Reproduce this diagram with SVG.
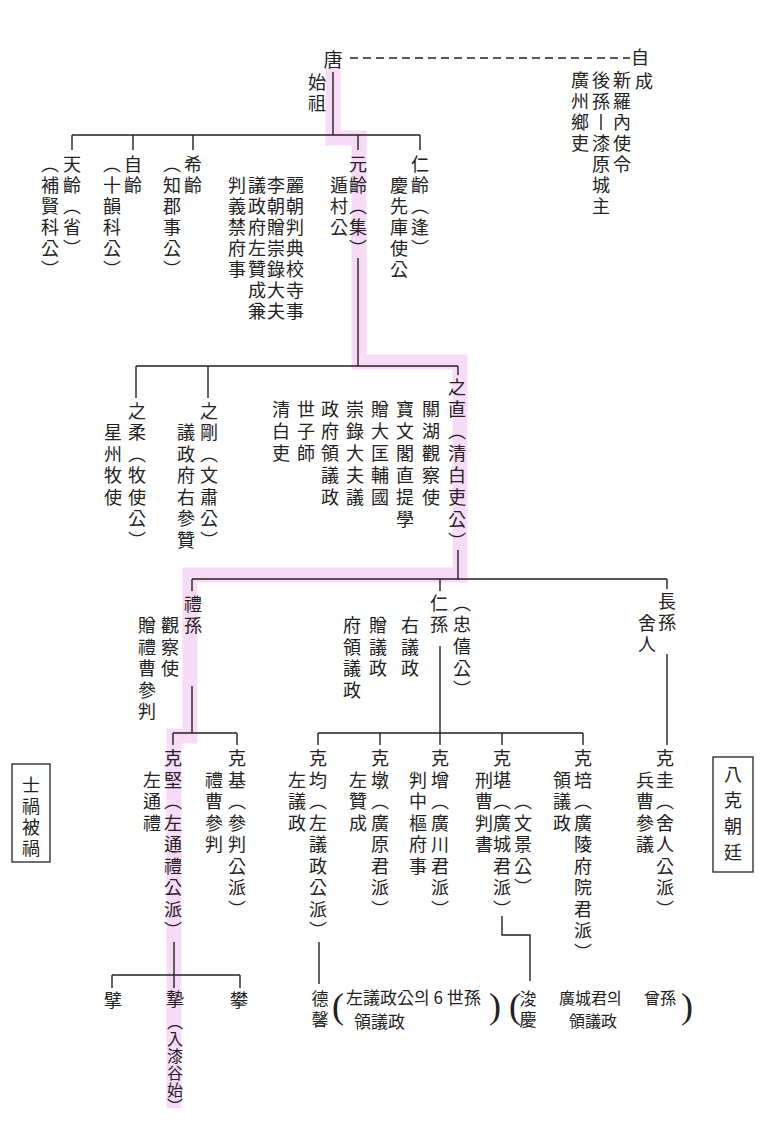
<svg xmlns="http://www.w3.org/2000/svg" width="764" height="1129" viewBox="0 0 764 1129">
<style>
text{font-family:"Noto Sans CJK KR","Noto Sans CJK TC",sans-serif;font-size:18px;fill:#222;text-anchor:middle;dominant-baseline:central}
.s{font-size:16px}
.h{font-size:17px;text-anchor:start}
.p{font-family:"Liberation Serif",serif;font-size:36px}
.ln{stroke:#222;stroke-width:1.4;fill:none}
.dash{stroke:#222;stroke-width:1.4;stroke-dasharray:8 5;fill:none}
.box{fill:none;stroke:#222;stroke-width:1.3}
.hl{fill:none;stroke:#f2bdf0;stroke-width:15;opacity:0.55;stroke-linejoin:miter}
</style>
<rect width="764" height="1129" fill="#ffffff"/>
<path class="hl" d="M333,68 V138 H359 V362 H460 V575 H190 V736 H174 V1108"/>
<g id="connectors">
<line class="dash" x1="350" y1="58" x2="630" y2="58"/>
<path class="ln" d="M333,72 V135 M72,135 H420 M72,135 V150 M133,135 V150 M193,135 V150 M358,135 V150 M420,135 V150"/>
<path class="ln" d="M358,258 V366 M136,366 H458 M136,366 V398 M208,366 V398 M458,366 V375"/>
<path class="ln" d="M458,550 V579 M192,579 H667 M192,579 V591 M440,579 V591 M667,579 V589"/>
<path class="ln" d="M192,686 V733 M440,646 V733 M667,654 V745"/>
<path class="ln" d="M173,733 H237 M173,733 V745 M237,733 V745"/>
<path class="ln" d="M318,733 H583 M318,733 V745 M380,733 V745 M440,733 V745 M502,733 V745 M583,733 V745"/>
<path class="ln" d="M174,942 V975 M112,975 H240 M112,975 V988 M174,975 V988 M240,975 V988"/>
<path class="ln" d="M319,942 V984"/>
<path class="ln" d="M502,916 V935 H530 V981"/>
</g>
<g id="n-tang">
<text x="333" y="58" style="font-size:19px">唐</text>
<text x="317 317" y="81 102">始祖</text>
</g>
<g id="n-jaseong">
<text x="640" y="56">自</text>
<text x="644" y="80">成</text>
<text x="622 622 622 622 622" y="79 100 121 142 163">新羅內使令</text>
<text x="601 601" y="79 100">後孫</text>
<line class="ln" x1="601" y1="114" x2="601" y2="130"/>
<text x="601 601 601 601" y="142 163 184 205">漆原城主</text>
<text x="580 580 580 580" y="79 100 121 142">廣州鄉吏</text>
</g>
<g id="n-cheonryeong">
<text x="72 72 72 72 72" y="163 184 205 226 247">天齡︵省︶</text>
<text x="50 50 50 50 50 50" y="163 184 205 226 247 268">︵補賢科公︶</text>
</g>
<g id="n-jaryeong">
<text x="133 133" y="163 184">自齡</text>
<text x="112 112 112 112 112 112" y="163 184 205 226 247 268">︵十韻科公︶</text>
</g>
<g id="n-huiryeong">
<text x="193 193" y="163 184">希齡</text>
<text x="172 172 172 172 172 172" y="163 184 205 226 247 268">︵知郡事公︶</text>
</g>
<g id="n-wonryeong">
<text x="358 358 358 358 358" y="163 184 205 226 247">元齡︵集︶</text>
<text x="339 339 339" y="184 205 226">遁村公</text>
<text x="295 295 295 295 295 295 295" y="184 205 226 247 268 289 310">麗朝判典校寺事</text>
<text x="276 276 276 276 276 276 276" y="184 205 226 247 268 289 310">李朝贈崇錄大夫</text>
<text x="257 257 257 257 257 257 257" y="184 205 226 247 268 289 310">議政府左贊成兼</text>
<text x="237 237 237 237 237" y="184 205 226 247 268">判義禁府事</text>
</g>
<g id="n-inryeong">
<text x="420 420 420 420 420" y="163 184 205 226 247">仁齡︵逢︶</text>
<text x="399 399 399 399 399" y="184 205 226 247 268">慶先庫使公</text>
</g>
<g id="n-jijik">
<text x="457 457 457 457 457 457 457 457" y="386 408 430 452 474 496 518 540">之直︵清白吏公︶</text>
<text x="431 431 431 431 431" y="408 430 452 474 496">關湖觀察使</text>
<text x="405 405 405 405 405 405" y="408 430 452 474 496 518">寶文閣直提學</text>
<text x="380 380 380 380 380" y="408 430 452 474 496">贈大匡輔國</text>
<text x="355 355 355 355 355" y="408 430 452 474 496">崇錄大夫議</text>
<text x="330 330 330 330 330" y="408 430 452 474 496">政府領議政</text>
<text x="306 306 306" y="408 430 452">世子師</text>
<text x="281 281 281" y="408 430 452">清白吏</text>
</g>
<g id="n-jiyu">
<text x="137 137 137 137 137 137 137" y="410 431 453 474 496 517 539">之柔︵牧使公︶</text>
<text x="113 113 113 113" y="431 453 474 496">星州牧使</text>
</g>
<g id="n-jigang">
<text x="209 209 209 209 209 209 209" y="410 431 453 474 496 517 539">之剛︵文肅公︶</text>
<text x="186 186 186 186 186 186" y="431 453 474 496 517 539">議政府右參贊</text>
</g>
<g id="n-yeson">
<text x="193 193" y="603 624">禮孫</text>
<text x="170 170 170" y="624 646 667">觀察使</text>
<text x="147 147 147 147 147" y="624 646 667 689 710">贈禮曹參判</text>
</g>
<g id="n-inson">
<text x="439 439" y="602 623">仁孫</text>
<text x="462 462 462 462 462" y="602 623 645 667 688">︵忠僖公︶</text>
<text x="410 410 410" y="624 646 667">右議政</text>
<text x="378 378 378" y="624 646 667">贈議政</text>
<text x="352 352 352 352" y="624 646 667 689">府領議政</text>
</g>
<g id="n-jangson">
<text x="667 667" y="600 621">長孫</text>
<text x="647 647" y="622 643">舍人</text>
</g>
<g id="n-geukgyeon">
<text x="173 173 173 173 173 173 173 173 173" y="757 779 800 822 843 865 886 908 929">克堅︵左通禮公派︶</text>
<text x="152 152 152" y="779 800 822">左通禮</text>
</g>
<g id="n-geukgi">
<text x="237 237 237 237 237 237 237 237" y="757 779 800 822 843 865 886 908">克基︵參判公派︶</text>
<text x="214 214 214 214" y="779 800 822 843">禮曹參判</text>
</g>
<g id="n-geukgyun">
<text x="318 318 318 318 318 318 318 318 318" y="757 779 800 822 843 865 886 908 929">克均︵左議政公派︶</text>
<text x="297 297 297" y="779 800 822">左議政</text>
</g>
<g id="n-geukdon">
<text x="380 380 380 380 380 380 380 380" y="757 779 800 822 843 865 886 908">克墩︵廣原君派︶</text>
<text x="358 358 358" y="779 800 822">左贊成</text>
</g>
<g id="n-geukjeung">
<text x="440 440 440 440 440 440 440 440" y="757 779 800 822 843 865 886 908">克增︵廣川君派︶</text>
<text x="418 418 418 418 418" y="779 800 822 843 865">判中樞府事</text>
</g>
<g id="n-geukgam">
<text x="502 502 502 502 502 502 502 502" y="757 779 800 822 843 865 886 908">克堪︵廣城君派︶</text>
<text x="484 484 484 484" y="779 800 822 843">刑曹判書</text>
<text x="523 523 523 523 523" y="800 822 843 865 886">︵文景公︶</text>
</g>
<g id="n-geukbae">
<text x="583 583 583 583 583 583 583 583 583 583" y="757 779 800 822 843 865 886 908 929 951">克培︵廣陵府院君派︶</text>
<text x="562 562 562" y="779 800 822">領議政</text>
</g>
<g id="n-geukgyu">
<text x="665 665 665 665 665 665 665 665" y="757 779 800 822 843 865 886 908">克圭︵舍人公派︶</text>
<text x="645 645 645 645" y="779 800 822 843">兵曹參議</text>
</g>
<g id="n-byeok"><text x="113" y="999">擘</text></g>
<g id="n-ji">
<text x="175" y="998">摯</text>
<text class="s" x="175 175 175 175 175 175" y="1021 1038 1055 1072 1089 1105">︵入漆谷始︶</text>
</g>
<g id="n-ban"><text x="239" y="999">攀</text></g>
<g id="n-deokhyeong">
<text x="320 320" y="997 1018" style="font-size:17px">德馨</text>
<text class="p" x="338" y="1006">(</text>
<text class="h" x="346" y="996">左議政公의 6 世孫</text>
<text class="h" x="354" y="1020">領議政</text>
<text class="p" x="495" y="1006">)</text>
</g>
<g id="n-jungyeong">
<text class="p" x="515" y="1006">(</text>
<text x="528 528" y="997 1018" style="font-size:17px">浚慶</text>
<text class="h" x="559" y="997" style="font-size:16px">廣城君의</text>
<text class="h" x="644" y="997" style="font-size:16px">曾孫</text>
<text class="h" x="569" y="1020" style="font-size:16px">領議政</text>
<text class="p" x="687" y="1006">)</text>
</g>
<g id="box-sahwa">
<rect class="box" x="12" y="764" width="38" height="98"/>
<text x="31 31 31 31" y="784 805 826 847">士禍被禍</text>
</g>
<g id="box-palgeuk">
<rect class="box" x="713" y="757" width="40" height="115"/>
<text x="733 733 733 733" y="773 799 825 851">八克朝廷</text>
</g>
</svg>
